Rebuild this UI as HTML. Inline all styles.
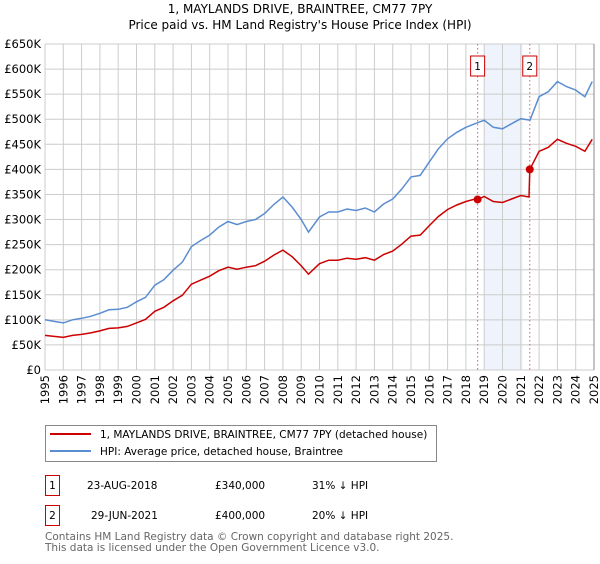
<!DOCTYPE html>
<html><head><meta charset="utf-8"><style>
body{margin:0;background:#fff;width:600px;height:560px;overflow:hidden;font-family:"DejaVu Sans","Liberation Sans",sans-serif}
svg text{font-family:"DejaVu Sans","Liberation Sans",sans-serif}
</style></head><body>
<svg id="chart" width="600" height="560" xmlns="http://www.w3.org/2000/svg">
<text x="300" y="13" text-anchor="middle" font-size="12">1, MAYLANDS DRIVE, BRAINTREE, CM77 7PY</text>
<text x="300" y="29" text-anchor="middle" font-size="12">Price paid vs. HM Land Registry's House Price Index (HPI)</text>
<g id="grid"></g>
<g id="axes"></g>
<g id="series"></g>
<g>
<rect x="45.5" y="425.5" width="391" height="36" fill="#fff" stroke="#888"/>
<line x1="50" y1="434" x2="91" y2="434" stroke="#cc0000" stroke-width="2"/>
<text x="100" y="438" font-size="10.5">1, MAYLANDS DRIVE, BRAINTREE, CM77 7PY (detached house)</text>
<line x1="50" y1="451" x2="91" y2="451" stroke="#5b8dd1" stroke-width="2"/>
<text x="100" y="455" font-size="10.5">HPI: Average price, detached house, Braintree</text>
</g>
<g font-size="10.5">
<rect x="45.5" y="475.5" width="14" height="20" fill="#fff" stroke="#cc0000"/>
<text x="52.5" y="489" text-anchor="middle">1</text>
<text x="87" y="489">23-AUG-2018</text><text x="215" y="489">£340,000</text><text x="312" y="489">31% ↓ HPI</text>
<rect x="45.5" y="505.5" width="14" height="20" fill="#fff" stroke="#cc0000"/>
<text x="52.5" y="519" text-anchor="middle">2</text>
<text x="91" y="519">29-JUN-2021</text><text x="215" y="519">£400,000</text><text x="312" y="519">20% ↓ HPI</text>
</g>
<text x="45" y="540" font-size="10.5" fill="#666">Contains HM Land Registry data © Crown copyright and database right 2025.</text>
<text x="45" y="551" font-size="10.5" fill="#666">This data is licensed under the Open Government Licence v3.0.</text>
</svg>
<script>
const hpiDates=[1995,1995.5,1996,1996.5,1997,1997.5,1998,1998.5,1999,1999.5,2000,2000.5,2001,2001.5,2002,2002.5,2003,2003.5,2004,2004.5,2005,2005.5,2006,2006.5,2007,2007.5,2008,2008.5,2009,2009.4,2010,2010.5,2011,2011.5,2012,2012.5,2013,2013.5,2014,2014.5,2015,2015.5,2016,2016.5,2017,2017.5,2018,2018.5,2019,2019.5,2020,2020.5,2021,2021.5,2022,2022.5,2023,2023.5,2024,2024.5,2024.9];
const hpiValues=[100,97,94,100,103,107,113,120,121,125,136,145,169,180,199,215,246,258,269,285,296,290,296,300,312,330,345,325,300,275,305,315,315,321,318,323,315,331,341,361,385,388,415,441,461,474,484,491,498,484,481,491,501,498,545,555,575,565,558,545,575];
const priceDates=[1995,1995.5,1996,1996.5,1997,1997.5,1998,1998.5,1999,1999.5,2000,2000.5,2001,2001.5,2002,2002.5,2003,2003.5,2004,2004.5,2005,2005.5,2006,2006.5,2007,2007.5,2008,2008.5,2009,2009.4,2010,2010.5,2011,2011.5,2012,2012.5,2013,2013.5,2014,2014.5,2015,2015.5,2016,2016.5,2017,2017.5,2018,2018.5,2018.64,2019,2019.5,2020,2020.5,2021,2021.45,2021.49,2022,2022.5,2023,2023.5,2024,2024.5,2024.9];
const priceValues=[69,67,65,69,71,74,78,83,84,87,94,101,117,125,138,149,171,179,187,198,205,201,205,208,217,229,239,226,208,191,212,219,219,223,221,224,219,230,237,251,267,269,288,306,320,329,336,341,340,346,336,334,341,348,345,400,436,444,460,452,446,436,460];
const saleDates=[2018.64,2021.49];
const saleValues=[340,400];
const saleLabels=["1","2"];
const yTicks=[0,50,100,150,200,250,300,350,400,450,500,550,600,650];
const yTickLabels=["£0","£50K","£100K","£150K","£200K","£250K","£300K","£350K","£400K","£450K","£500K","£550K","£600K","£650K"];
const xTicks=[1995,1996,1997,1998,1999,2000,2001,2002,2003,2004,2005,2006,2007,2008,2009,2010,2011,2012,2013,2014,2015,2016,2017,2018,2019,2020,2021,2022,2023,2024,2025];
const shadeRange=[2019.0,2021.1];

const NS="http://www.w3.org/2000/svg";
const X0=45,X1=594,Y0=370,Y1=44;
const xs=d=>X0+(d-1995)/30*(X1-X0);
const ys=v=>Y0-v/650*(Y0-Y1);
function mk(tag,attrs,parent){const e=document.createElementNS(NS,tag);for(const k in attrs)e.setAttribute(k,attrs[k]);parent.appendChild(e);return e;}
const grid=document.getElementById('grid'),axes=document.getElementById('axes'),ser=document.getElementById('series');
const sh=mk('rect',{x:xs(shadeRange[0]),y:Y1,width:xs(shadeRange[1])-xs(shadeRange[0]),height:Y0-Y1,fill:'#eef3fc'},grid);


yTicks.forEach((t,i)=>{
 const l=mk('line',{x1:X0,x2:X1,y1:ys(t),y2:ys(t),stroke:'#cccccc','stroke-width':1},grid);
 
 
 const tx=mk('text',{x:X0-4,y:ys(t)+4,'text-anchor':'end','font-size':'11.5'},axes);
 
 
 tx.textContent=yTickLabels[i];
});
xTicks.forEach(t=>{
 const l=mk('line',{x1:xs(t),x2:xs(t),y1:Y1,y2:Y0,stroke:'#cccccc','stroke-width':1},grid);
 
 
 const tx=mk('text',{x:0,y:0,'text-anchor':'end','font-size':'11.5',transform:`translate(${xs(t)+4},${Y0+5}) rotate(-90)`},axes);
 
 
 tx.textContent=t;
});
const ax=mk('line',{x1:X1,x2:X1,y1:Y1,y2:Y0,stroke:'#888'},axes);


saleDates.forEach((d,i)=>{
 const l=mk('line',{x1:xs(d),x2:xs(d),y1:Y1,y2:Y0,stroke:'#e06060','stroke-dasharray':'1.5,2.5'},ser);
 
 
 const r=mk('rect',{x:xs(d)-7,y:56,width:14,height:20,fill:'#fff',stroke:'#cc0000'},ser);
 
 
 const t=mk('text',{x:xs(d),y:70,'text-anchor':'middle','font-size':'10.5'},ser);
 
 
 t.textContent=saleLabels[i];
});
const hp=mk('path',{d:hpiDates.map((d,i)=>(i?'L':'M')+xs(d).toFixed(1)+','+ys(hpiValues[i]).toFixed(1)).join(''),fill:'none',stroke:'#5b8dd1','stroke-width':1.5},ser);


const pp=mk('path',{d:priceDates.map((d,i)=>(i?'L':'M')+xs(d).toFixed(1)+','+ys(priceValues[i]).toFixed(1)).join(''),fill:'none',stroke:'#cc0000','stroke-width':1.5},ser);


saleDates.forEach((d,i)=>{
 const c=mk('circle',{cx:xs(d),cy:ys(saleValues[i]),r:4,fill:'#cc0000'},ser);
 
 
});
</script>
</body></html>
